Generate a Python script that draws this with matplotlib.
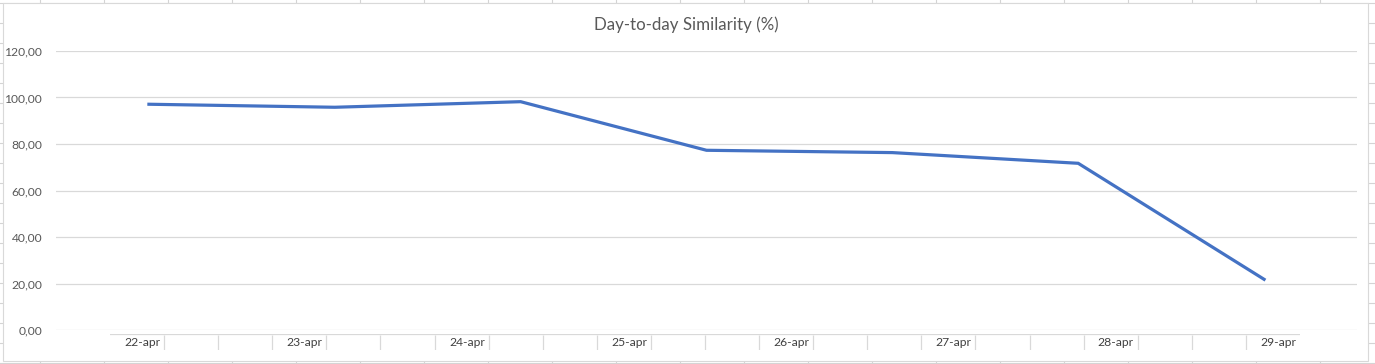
import matplotlib
matplotlib.use("Agg")
import matplotlib.pyplot as plt
from matplotlib.patches import Rectangle
from matplotlib.lines import Line2D
from matplotlib.ticker import FuncFormatter, MultipleLocator

# --- data ---
similarity = [97.1, 95.8, 98.2, 77.3, 76.3, 71.7, 21.8]
day_labels = ["22-apr", "23-apr", "24-apr", "25-apr", "26-apr", "27-apr", "28-apr", "29-apr"]
n_slots = 22          # category slots on the label row
label_every = 3

W, H = 1375, 364
plt.rcParams["font.family"] = ["Lato", "DejaVu Sans"]
text_color = "#595959"
grid_color = "#d9d9d9"
line_color = "#4472C4"

fig = plt.figure(figsize=(W / 100, H / 100), dpi=100)
fig.patch.set_facecolor("white")

# --- spreadsheet cells behind the chart ---
cell = "#d4d4d4"
for x in range(40, W, 64):
    fig.add_artist(Line2D([x / W, x / W], [0, 1], color=cell, lw=0.8, zorder=-3))
for y in range(3, H, 20):
    fig.add_artist(Line2D([0, 1], [1 - y / H, 1 - y / H], color=cell, lw=0.8, zorder=-3))
fig.add_artist(Rectangle((3 / W, 3 / H), (1368 - 3) / W, (361 - 3) / H,
                         transform=fig.transFigure, facecolor="white",
                         edgecolor=grid_color, lw=0.8, zorder=-2))

# --- main plot ---
ax = fig.add_axes([56 / W, 34 / H, (1357 - 56) / W, (330 - 51) / H])
ax.set_facecolor("none")
ax.plot(range(len(similarity)), similarity, color=line_color, lw=2.3,
        solid_joinstyle="miter", zorder=3)
ax.set_xlim(-0.5, len(similarity) - 0.5)
ax.set_ylim(0, 120)
ax.yaxis.set_major_locator(MultipleLocator(20))
ax.yaxis.set_major_formatter(FuncFormatter(lambda v, p: f"{v:.2f}".replace(".", ",")))
ax.grid(axis="y", color=grid_color, lw=0.9)
ax.set_axisbelow(True)
ax.set_xticks([])
ax.tick_params(axis="y", length=0, pad=10, labelsize=8.7, labelcolor=text_color)
for spine in ax.spines.values():
    spine.set_visible(False)

# title is centred on the whole chart box, not on the plot area
fig.text(686 / W, 1 - 25 / H, "Day-to-day Similarity (%)", color=text_color,
         fontsize=12.2, ha="center", va="center")

# --- label row under the plot ---
lab = fig.add_axes([110 / W, 14 / H, (1300 - 110) / W, 16 / H])
lab.set_xlim(0, n_slots)
lab.set_ylim(0, 1)
lab.axis("off")
lab.axhline(1, color=grid_color, lw=0.9)
lab.vlines(range(1, n_slots), 0.0, 0.95, color=grid_color, lw=0.9)
for i, name in enumerate(day_labels):
    lab.text(i * label_every + 0.93, 0.45, name, ha="right", va="center",
             fontsize=8.7, color="#404040")

fig.savefig("out.png", dpi=100, facecolor=fig.get_facecolor())
